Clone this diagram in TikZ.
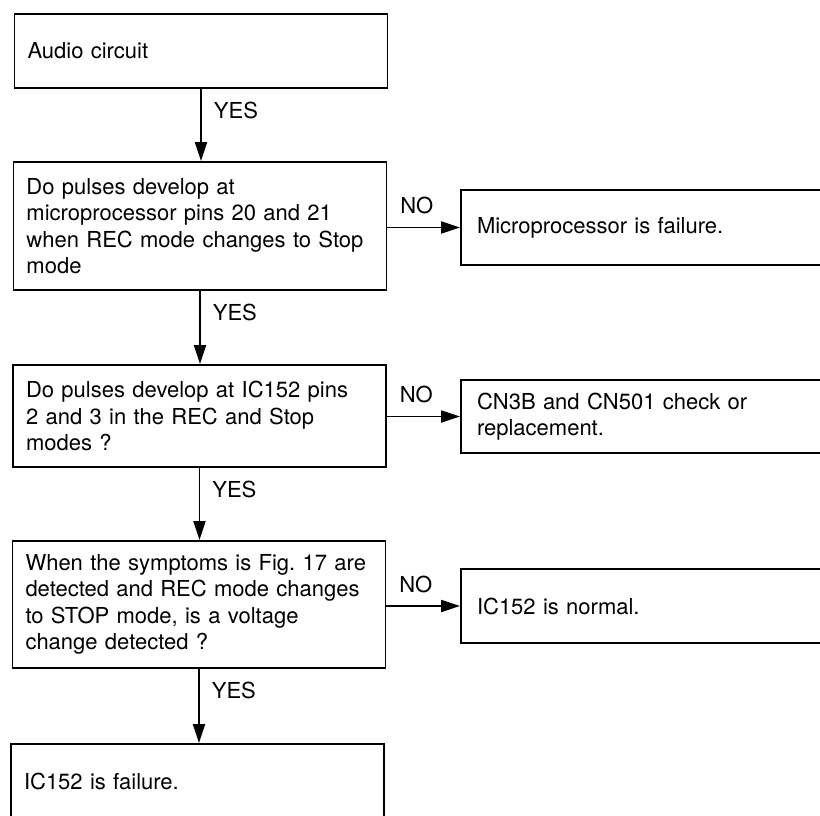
\documentclass[tikz,border=0pt]{standalone}
\usepackage{fontspec}
\setmainfont{TeX Gyre Heros}
\usepackage{tikz}
\usetikzlibrary{arrows.meta}
\frenchspacing

\begin{document}
\begin{tikzpicture}[x=1pt,y=1pt,
  font=\fontsize{22}{26.5}\selectfont,
  stepbox/.style={draw,line width=1.8pt,rectangle,align=left,text width=347pt,inner xsep=13pt,inner ysep=0pt},
  endbox/.style={draw,line width=1.8pt,rectangle,align=left,text width=400pt,inner xsep=16pt,inner ysep=0pt},
  flow/.style={line width=1.8pt,-{Triangle[length=19pt,width=12pt]}},
  yeslbl/.style={anchor=west,xshift=8pt,yshift=-22pt,inner sep=4pt},
  nolbl/.style={anchor=west,xshift=8pt,yshift=22pt,inner sep=4pt}]
\useasboundingbox (0,0) rectangle (820,-815);
\clip (0,0) rectangle (820,-815);
\fill[white] (0,0) rectangle (820,-815);
\node[stepbox,minimum height=74pt] (audio) at (201,-51) {Audio circuit};
\node[stepbox,minimum height=128pt] (pulsemicro) at (200,-226) {Do pulses develop at\\microprocessor pins 20 and 21\\when REC mode changes to Stop\\mode};
\node[stepbox,minimum height=102pt] (pulseic) at (199.5,-416) {Do pulses develop at IC152 pins\\2 and 3 in the REC and Stop\\modes ?};
\node[stepbox,minimum height=127pt] (symptom) at (199,-604.5) {When the symptoms is Fig. 17 are\\detected and REC mode changes\\to STOP mode, is a voltage\\change detected ?};
\node[stepbox,minimum height=76pt,anchor=north] (icfail) at (197.5,-743) {IC152 is failure.};
\node[endbox,minimum height=75pt] (micrfail) at (677,-227.5) {Microprocessor is failure.};
\node[endbox,minimum height=73pt] (cncheck) at (677,-416.5) {CN3B and CN501 check or\\replacement.};
\node[endbox,minimum height=74pt] (icnormal) at (677,-606) {IC152 is normal.};
\draw[flow] (audio.south) -- node[yeslbl,pos=0] {YES} (audio.south |- pulsemicro.north);
\draw[flow] (pulsemicro.south) -- node[yeslbl,pos=0] {YES} (pulsemicro.south |- pulseic.north);
\draw[flow] (pulseic.south) -- node[yeslbl,pos=0] {YES} (pulseic.south |- symptom.north);
\draw[flow] (symptom.south) -- node[yeslbl,pos=0] {YES} (symptom.south |- icfail.north);
\draw[flow] (pulsemicro.east |- micrfail.west) -- node[nolbl,pos=0] {NO} (micrfail.west);
\draw[flow] (pulseic.east |- cncheck.west) -- node[nolbl,pos=0] {NO} (cncheck.west);
\draw[flow] (symptom.east |- icnormal.west) -- node[nolbl,pos=0] {NO} (icnormal.west);
\end{tikzpicture}
\end{document}
